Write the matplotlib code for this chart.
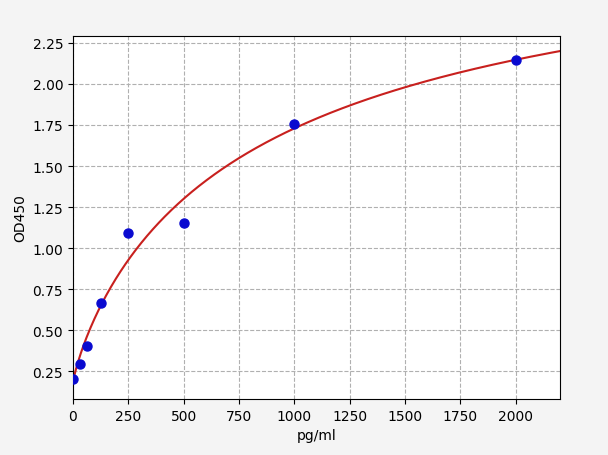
import numpy as np
import matplotlib
matplotlib.use("Agg")
import matplotlib.pyplot as plt

# standard points
conc = [0, 31.25, 62.5, 125, 250, 500, 1000, 2000]
od450 = [0.203, 0.291, 0.402, 0.666, 1.091, 1.154, 1.756, 2.146]

# 4PL fit parameters
fit_a = 0.18
fit_b = 0.85
fit_c = 900.0
fit_d = 3.146

x_max = 2200


def four_pl(x, a, b, c, d):
    return d + (a - d) / (1.0 + (x / c) ** b)


fig = plt.figure(figsize=[6.08, 4.56], dpi=100, facecolor="#f4f4f4")
ax = fig.add_axes([0.12, 0.123, 0.801, 0.796])

xs = np.linspace(0, x_max, 500)
ax.plot(xs, four_pl(xs, fit_a, fit_b, fit_c, fit_d), color="#c8201e", lw=1.5, zorder=2)
ax.plot(conc, od450, "o", color="#0a0ad0", markersize=6.5, zorder=3)

ax.set_xlim(0, x_max)
ax.set_ylim(0.08, 2.293)
ax.set_xticks(np.arange(0, 2001, 250))
ax.set_yticks(np.arange(0.25, 2.26, 0.25))
ax.grid(True, linestyle="--", color="#b0b0b0", lw=0.8)
ax.set_axisbelow(True)
ax.set_xlabel("pg/ml")
ax.set_ylabel("OD450")

plt.savefig("out.png", facecolor=fig.get_facecolor())
